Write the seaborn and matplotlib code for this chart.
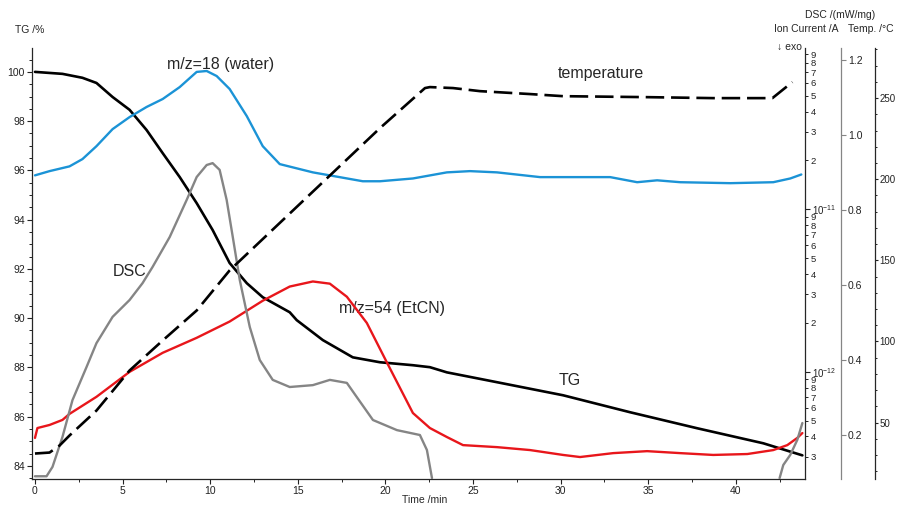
import numpy as np
import matplotlib
matplotlib.use("Agg")
import matplotlib.pyplot as plt
import matplotlib.ticker as mticker
import seaborn as sns

# ---- values ----
tg_time = [0, 1.57, 2.71, 3.51, 4.43, 5.4, 6.37, 7.29, 8.26, 9.23, 10.14, 11.11,
           12.09, 13.0, 14.54, 14.94, 16.43, 18.14, 19.69, 21.57, 22.54, 23.51,
           26.37, 30.14, 33.97, 37.8, 41.57, 43.8]
tg_pct = [100.0, 99.92, 99.76, 99.55, 98.98, 98.46, 97.64, 96.7, 95.73, 94.67,
          93.58, 92.24, 91.42, 90.85, 90.24, 89.92, 89.11, 88.41, 88.21, 88.09,
          88.01, 87.8, 87.4, 86.87, 86.18, 85.53, 84.92, 84.43]

water_time = [0, 0.83, 1.97, 2.71, 3.51, 4.43, 5.4, 6.37, 7.29, 8.26, 9.23, 9.8,
              10.37, 11.11, 12.09, 13.0, 13.97, 15.86, 18.71, 19.69, 21.57, 23.51,
              24.83, 26.37, 28.83, 32.83, 34.37, 35.51, 36.83, 39.69, 42.14, 43.11,
              43.74]
water_ion = [1.62e-11, 1.72e-11, 1.84e-11, 2.04e-11, 2.45e-11, 3.12e-11, 3.70e-11,
             4.27e-11, 4.78e-11, 5.66e-11, 7.02e-11, 7.11e-11, 6.62e-11, 5.51e-11,
             3.75e-11, 2.45e-11, 1.90e-11, 1.69e-11, 1.49e-11, 1.49e-11, 1.55e-11,
             1.69e-11, 1.72e-11, 1.69e-11, 1.58e-11, 1.58e-11, 1.47e-11, 1.51e-11,
             1.47e-11, 1.45e-11, 1.47e-11, 1.55e-11, 1.64e-11]

etcn_time = [0, 0.14, 0.83, 1.57, 1.97, 3.51, 5.4, 7.29, 9.23, 11.11, 13.0, 14.54,
             15.86, 16.83, 17.8, 18.94, 20.09, 21.57, 22.54, 23.51, 24.43, 26.37,
             28.26, 30.14, 31.11, 33.0, 34.94, 36.83, 38.71, 40.66, 42.14, 42.94,
             43.51, 43.8]
etcn_ion = [3.92e-13, 4.51e-13, 4.71e-13, 5.06e-13, 5.51e-13, 7.02e-13, 1.0e-12,
            1.31e-12, 1.62e-12, 2.04e-12, 2.74e-12, 3.35e-12, 3.60e-12, 3.49e-12,
            2.90e-12, 2.00e-12, 1.14e-12, 5.58e-13, 4.51e-13, 3.97e-13, 3.54e-13,
            3.44e-13, 3.30e-13, 3.08e-13, 2.99e-13, 3.16e-13, 3.25e-13, 3.16e-13,
            3.08e-13, 3.12e-13, 3.30e-13, 3.54e-13, 3.92e-13, 4.2e-13]

dsc_time_a = [0, 0.66, 1.0, 1.57, 2.14, 2.94, 3.51, 4.43, 5.4, 6.14, 6.71, 7.69,
              8.66, 9.23, 9.8, 10.14, 10.54, 10.94, 11.29, 11.69, 12.26, 12.83,
              13.57, 14.54, 15.86, 16.83, 17.8, 18.37, 19.29, 20.66, 21.97, 22.37,
              22.66]
dsc_val_a = [0.09, 0.09, 0.115, 0.195, 0.293, 0.381, 0.445, 0.515, 0.56, 0.605,
             0.648, 0.728, 0.827, 0.888, 0.92, 0.925, 0.907, 0.827, 0.728, 0.613,
             0.488, 0.40, 0.347, 0.328, 0.333, 0.347, 0.339, 0.301, 0.24, 0.213,
             0.20, 0.16, 0.085]
dsc_time_b = [42.5, 42.71, 43.11, 43.51, 43.8]
dsc_val_b = [0.085, 0.12, 0.147, 0.187, 0.232]

temp_time = [0, 0.83, 1.4, 1.97, 3.51, 5.4, 7.29, 9.23, 11.11, 19.69, 22.26, 22.54,
             23.86, 25.4, 28.26, 30.14, 34.94, 38.71, 42.09, 43.23]
temp_c = [30.9, 31.5, 35.8, 42.0, 57.4, 82.1, 100.6, 119.1, 143.8, 231.5, 256.2,
          256.8, 256.2, 254.3, 252.5, 251.2, 250.6, 250.0, 250.0, 259.9]

tg_ticks = [84, 86, 88, 90, 92, 94, 96, 98, 100]
dsc_ticks = [0.2, 0.4, 0.6, 0.8, 1.0, 1.2]
temp_ticks = [50, 100, 150, 200, 250]
time_ticks = [0, 5, 10, 15, 20, 25, 30, 35, 40]
ion_decades = [1e-12, 1e-11]
ion_minor = ([m * 1e-13 for m in range(3, 10)] + [m * 1e-12 for m in range(2, 10)]
             + [m * 1e-11 for m in range(2, 10)])

BLUE = "#1b93d6"
RED = "#e8161b"
GRAY = "#858585"

sns.set_style("ticks")
plt.rcParams["font.family"] = ["Liberation Sans", "DejaVu Sans"]
plt.rcParams["mathtext.fontset"] = "custom"
plt.rcParams["mathtext.rm"] = "Liberation Sans"
plt.rcParams["mathtext.it"] = "Liberation Sans"
plt.rcParams["mathtext.default"] = "rm"
plt.rcParams["lines.solid_joinstyle"] = "round"


def decade_label(val, pos):
    return r"$10^{%d}$" % int(round(np.log10(val)))


def mantissa_label(val, pos):
    exp = np.floor(np.log10(val) + 1e-9)
    return "%d" % int(round(val / 10 ** exp))


def style_axis(a, size=7.5):
    a.tick_params(axis="both", which="major", labelsize=size, length=3.5, width=0.8,
                  pad=1.5, colors="#222222")
    a.tick_params(axis="both", which="minor", length=2, width=0.7, colors="#222222")


fig = plt.figure(figsize=(8.97, 5.08), dpi=100)
ax = fig.add_axes([32 / 897, 1 - 479 / 508, (805 - 32) / 897, (479 - 48) / 508])
ax_ion = ax.twinx()
ax_dsc = ax.twinx()
ax_temp = ax.twinx()

# TG (left axis)
sns.lineplot(x=tg_time, y=tg_pct, ax=ax, color="black", lw=1.9)
ax.set_xlim(-0.17, 43.95)
ax.set_ylim(83.47, 100.97)
ax.set_xticks(time_ticks)
ax.xaxis.set_minor_locator(mticker.MultipleLocator(2.5))
ax.set_yticks(tg_ticks)
ax.yaxis.set_minor_locator(mticker.MultipleLocator(0.5))
ax.spines["top"].set_visible(False)
ax.spines["right"].set_visible(False)
ax.set_xlabel("")
ax.set_ylabel("")
style_axis(ax)

# ion currents (log axis on the plot edge)
ax_ion.set_yscale("log")
sns.lineplot(x=water_time, y=water_ion, ax=ax_ion, color=BLUE, lw=1.7)
sns.lineplot(x=etcn_time, y=etcn_ion, ax=ax_ion, color=RED, lw=1.7)
ax_ion.set_ylim(2.19e-13, 0.985e-10)
ax_ion.yaxis.set_major_locator(mticker.FixedLocator(ion_decades))
ax_ion.yaxis.set_minor_locator(mticker.FixedLocator(ion_minor))
ax_ion.yaxis.set_major_formatter(mticker.FuncFormatter(decade_label))
ax_ion.yaxis.set_minor_formatter(mticker.FuncFormatter(mantissa_label))
for s in ["top", "left", "bottom"]:
    ax_ion.spines[s].set_visible(False)
ax_ion.set_ylabel("")
style_axis(ax_ion, 7)
ax_ion.tick_params(axis="y", which="minor", labelsize=6.8, length=2.5, pad=1.5)

# DSC (gray axis, 36 px right of the plot)
sns.lineplot(x=dsc_time_a, y=dsc_val_a, ax=ax_dsc, color=GRAY, lw=1.7)
sns.lineplot(x=dsc_time_b, y=dsc_val_b, ax=ax_dsc, color=GRAY, lw=1.7)
ax_dsc.set_ylim(0.0827, 1.232)
ax_dsc.set_yticks(dsc_ticks)
ax_dsc.yaxis.set_major_formatter(mticker.FormatStrFormatter("%.1f"))
ax_dsc.spines["right"].set_position(("outward", 36 * 0.72))
ax_dsc.spines["right"].set_color(GRAY)
for s in ["top", "left", "bottom"]:
    ax_dsc.spines[s].set_visible(False)
ax_dsc.set_ylabel("")
style_axis(ax_dsc)
ax_dsc.tick_params(axis="y", color=GRAY)

# temperature (outer axis, 70 px right of the plot)
sns.lineplot(x=temp_time, y=temp_c, ax=ax_temp, color="black", lw=1.9,
             dashes=False, linestyle=(0, (7, 2.6)))
ax_temp.set_ylim(15.2, 280.9)
ax_temp.set_yticks(temp_ticks)
ax_temp.yaxis.set_minor_locator(mticker.MultipleLocator(10))
ax_temp.spines["right"].set_position(("outward", 70 * 0.72))
for s in ["top", "left", "bottom"]:
    ax_temp.spines[s].set_visible(False)
ax_temp.set_ylabel("")
style_axis(ax_temp)
ax_temp.tick_params(axis="y", which="major", labelsize=7, length=2.5, pad=0.8)
ax_temp.tick_params(axis="y", which="minor", length=1.6)

for a in (ax, ax_ion, ax_dsc, ax_temp):
    for sp in a.spines.values():
        sp.set_linewidth(0.9)

# curve labels
ax.text(10.6, 100.3, "m/z=18 (water)", fontsize=11.5, ha="center", va="center")
ax.text(32.3, 99.94, "temperature", fontsize=11.5, ha="center", va="center")
ax.text(5.4, 91.9, "DSC", fontsize=11.5, ha="center", va="center")
ax.text(20.4, 90.4, "m/z=54 (EtCN)", fontsize=11.5, ha="center", va="center")
ax.text(30.5, 87.45, "TG", fontsize=11.5, ha="center", va="center")

# axis titles
fig.text(30 / 897, 1 - 30 / 508, "TG /%", fontsize=7.5, ha="center", va="center")
fig.text(425 / 897, 1 - 500 / 508, "Time /min", fontsize=7.5, ha="center", va="center")
fig.text(840 / 897, 1 - 15 / 508, "DSC /(mW/mg)", fontsize=7.5, ha="center", va="center")
fig.text(806 / 897, 1 - 29 / 508, "Ion Current /A", fontsize=7.5, ha="center", va="center")
fig.text(894 / 897, 1 - 29 / 508, "Temp. /°C", fontsize=7.5, ha="right", va="center")
fig.text(802 / 897, 1 - 47 / 508, "↓ exo", fontsize=7.5, ha="right", va="center")

fig.savefig("out.png", dpi=100)
